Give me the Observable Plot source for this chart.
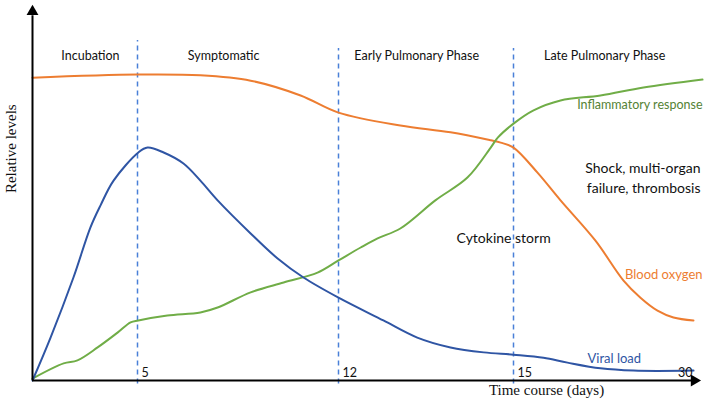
<!DOCTYPE html>
<html>
<head>
<meta charset="utf-8">
<script src="https://cdn.jsdelivr.net/npm/d3@7"></script>
<script src="https://cdn.jsdelivr.net/npm/@observablehq/plot@0.6"></script>
<style>
  html, body { margin: 0; padding: 0; background: #fff; }
  #chart svg { display: block; }
</style>
</head>
<body>
<div id="chart"></div>
<script>
// Time points (days) on a schematic, piecewise time axis
const phaseBoundaries = [5, 12, 15];
const tickDays = [5, 12, 15, 30];
const phaseNames = ["Incubation", "Symptomatic", "Early Pulmonary Phase", "Late Pulmonary Phase"];

// Viral load (relative level, 0-100)
const viralDays = [0, 0.86, 1.95, 2.76, 3.24, 3.86, 5.03, 5.35, 5.91, 6.6, 7.19, 7.79, 8.94, 9.88, 10.78, 12.0, 12.77, 13.35, 13.92, 14.49, 15.0, 17.5, 19.5, 22.25, 25.0, 30.0];
const viralLevels = [0, 11.3, 27.1, 40.3, 46.1, 52.6, 60.0, 61.3, 60.0, 57.1, 52.6, 47.4, 38.7, 32.1, 27.1, 21.8, 15.8, 11.3, 8.7, 7.4, 6.8, 6.0, 4.7, 3.2, 2.6, 2.6];

// Blood oxygen
const oxygenDays = [0, 5, 7.19, 8.94, 10.68, 12.0, 13.06, 13.92, 14.61, 14.78, 15.0, 17.0, 18.92, 21.83, 24.17, 25.58, 27.0, 28.33, 30.0];
const oxygenLevels = [79.7, 80.5, 80.3, 78.9, 75.0, 70.5, 67.1, 65.3, 63.2, 62.6, 61.3, 54.7, 47.4, 36.8, 26.3, 21.8, 18.4, 16.6, 15.8];

// Inflammatory response
const inflamDays = [0, 1.48, 2.14, 3.1, 4.05, 4.67, 5.03, 6.04, 7.19, 7.79, 8.94, 10.09, 11.27, 12.0, 12.38, 12.67, 13.06, 13.66, 14.21, 14.61, 14.73, 15.0, 16.67, 18.92, 22.25, 25.83, 30.75];
const inflamLevels = [0.5, 4.5, 5.3, 8.7, 12.6, 15.3, 15.8, 17.1, 17.9, 19.2, 23.2, 25.8, 28.4, 31.6, 35.0, 37.4, 40.0, 47.4, 53.4, 61.3, 63.9, 67.6, 71.1, 73.7, 75.0, 77.1, 79.2];

const toRows = (days, levels) => days.map((d, i) => ({day: d, level: levels[i]}));
const viral = toRows(viralDays, viralLevels);
const oxygen = toRows(oxygenDays, oxygenLevels);
const inflam = toRows(inflamDays, inflamLevels);

const sans = "Lato, 'Open Sans', sans-serif";
const serif = "'Liberation Serif', 'DejaVu Serif', serif";
const BLUE = "#2f55a4", ORANGE = "#ed7d31", GREEN = "#70ad47", GREEN_TXT = "#548235", DASH = "#4a80d8";

// schematic (non-uniform) time axis: each phase gets its own width
const timeWarp = d3.scaleLinear().domain([0, 5, 12, 15, 30]).range([0, 105, 306, 481, 661]);

const phaseX = [2.76, 8.0, 13.34, 22.6];

const chart = Plot.plot({
  width: 709,
  height: 401,
  margin: 0,
  x: {transform: timeWarp, domain: [0, 661], range: [32, 693], axis: null},
  y: {domain: [0, 100], range: [380, 0], axis: null},
  marks: [
    // phase dividers
    Plot.ruleX(phaseBoundaries, {y1: -0.9, y2: d => d === 5 ? 89.5 : 87.4, stroke: DASH, strokeWidth: 1.5, strokeDasharray: "5,4"}),
    // curves
    Plot.line(oxygen, {x: "day", y: "level", stroke: ORANGE, strokeWidth: 2, curve: "catmull-rom"}),
    Plot.line(inflam, {x: "day", y: "level", stroke: GREEN, strokeWidth: 2, curve: "catmull-rom"}),
    Plot.line(viral, {x: "day", y: "level", stroke: BLUE, strokeWidth: 2, curve: "catmull-rom"}),
    // axes
    Plot.ruleX([0], {y1: 0, y2: 96, stroke: "black", strokeWidth: 2}),
    Plot.ruleY([0], {x1: 0, x2: 30, stroke: "black", strokeWidth: 2}),
    Plot.dot([0], {x: 0, y: 97.1, symbol: "triangle", r: 4.4, fill: "black", stroke: "none"}),
    Plot.dot([0], {x: 30.06, y: 0, symbol: "triangle", r: 4.4, fill: "black", stroke: "none", rotate: 90}),
    // tick labels
    Plot.text(tickDays.slice(0, 3), {x: d => d, y: 2.1, text: d => String(d), textAnchor: "start", dx: 4, fontSize: 12.5, fontFamily: sans, fill: "#111"}),
    Plot.text(tickDays.slice(3), {x: d => d, y: 2.1, text: d => String(d), textAnchor: "end", dx: -1, fontSize: 12.5, fontFamily: sans, fill: "#111"}),
    // phase names
    Plot.text(phaseNames, {x: (d, i) => phaseX[i], y: 85.3, text: d => d, fontSize: 12.5, fontFamily: sans, fill: "#111"}),
    // annotations
    Plot.text(["Inflammatory response"], {x: 30.75, y: 72.4, text: d => d, textAnchor: "end", fontSize: 12.5, fontFamily: sans, fill: GREEN_TXT}),
    Plot.text(["Shock, multi-organ\nfailure, thrombosis"], {x: 30.58, y: 53.7, text: d => d, textAnchor: "end", lineHeight: 1.43, fontSize: 14, fontFamily: sans, fill: "#111"}),
    Plot.text(["Cytokine storm"], {x: 14.83, y: 37.4, text: d => d, fontSize: 14, fontFamily: sans, fill: "#111"}),
    Plot.text(["Blood oxygen"], {x: 30.75, y: 27.9, text: d => d, textAnchor: "end", fontSize: 13, fontFamily: sans, fill: ORANGE}),
    Plot.text(["Viral load"], {x: 23.4, y: 5.8, text: d => d, fontSize: 13, fontFamily: sans, fill: BLUE}),
    // axis titles
    Plot.text(["Time course (days)"], {x: 17.75, y: -2.6, text: d => d, fontSize: 15, fontFamily: serif, fill: "#111"}),
    Plot.text(["Relative levels"], {x: -1.0, y: 61, text: d => d, rotate: -90, fontSize: 15, fontFamily: serif, fill: "#111"})
  ]
});
document.getElementById("chart").appendChild(chart);
</script>
</body>
</html>
